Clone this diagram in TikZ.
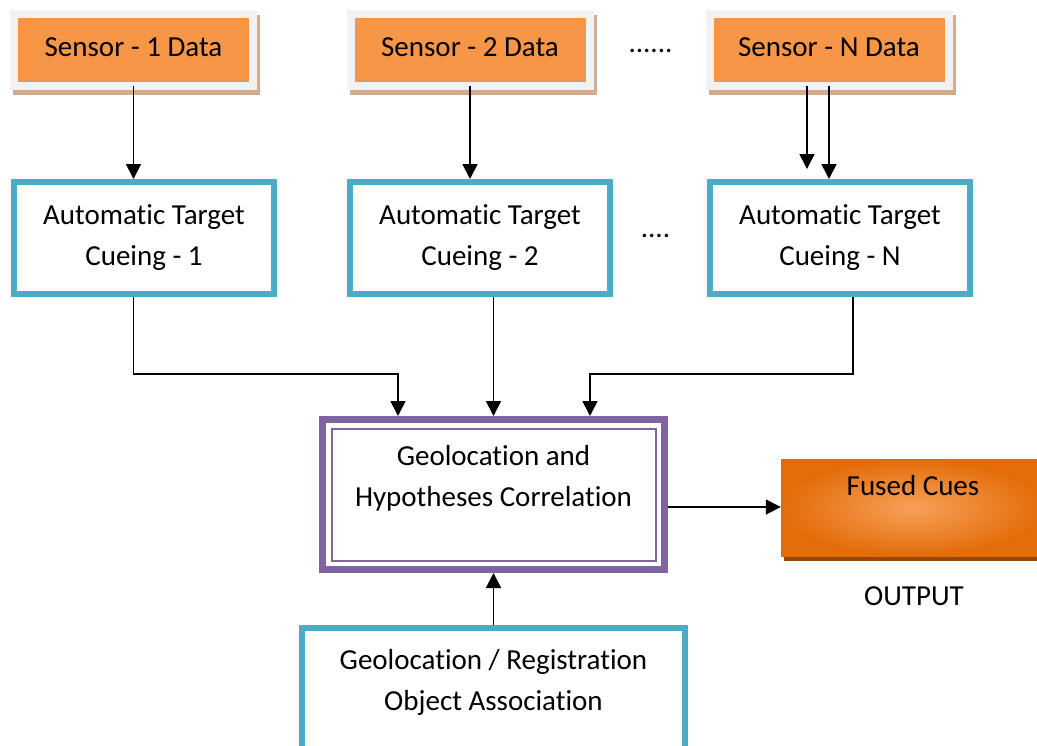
\documentclass[tikz,border=0pt]{standalone}
\usepackage{fontspec}
\setmainfont[RawFeature={-liga;-clig;-calt;-dlig;-rlig}]{Carlito}
\usetikzlibrary{arrows.meta,calc}
\definecolor{sensorOr}{HTML}{F79646}
\definecolor{frameGray}{HTML}{F2F2F2}
\definecolor{shadowBr}{RGB}{210,172,140}
\definecolor{atcBlue}{HTML}{4BACC6}
\definecolor{geoPurple}{HTML}{8064A2}
\definecolor{fuseDark}{HTML}{E36C09}
\definecolor{fuseShadow}{HTML}{984806}
\begin{document}
\begin{tikzpicture}[x=1pt,y=-1pt,
  every node/.style={font=\fontsize{29}{41}\selectfont, inner sep=0pt},
  sensorbox/.style={rectangle, fill=sensorOr, minimum width=231pt, minimum height=64pt,
    text height=19pt, text depth=6pt,
    preaction={fill=shadowBr, draw=shadowBr, line width=16pt, transform canvas={shift={(3pt,-5pt)}}},
    preaction={draw=frameGray, line width=16pt}},
  atcbox/.style={rectangle, draw=atcBlue, line width=6pt, fill=white,
    minimum width=260pt, minimum height=112pt, align=center},
  geobox/.style={rectangle, draw=geoPurple, line width=7pt, fill=white,
    minimum width=342pt, minimum height=150pt},
  fusebox/.style={rectangle, minimum width=264pt, minimum height=97pt,
    shading=radial, inner color=sensorOr!90!white, outer color=fuseDark,
    preaction={fill=fuseShadow, transform canvas={shift={(3pt,-5pt)}}}},
  conn/.style={line width=1.7pt, -{Triangle[length=15pt,width=15pt]}}
]
\useasboundingbox (0,0) rectangle (1037,745);

% sensors
\node[sensorbox] (s1) at (133.5,50) {Sensor - 1 Data};
\node[sensorbox] (s2) at (470,50) {Sensor - 2 Data};
\node[sensorbox] (sN) at (829,50) {Sensor - N Data};
\node[anchor=base] (d1) at (650.5,52) {......};

% ATC boxes
\node[atcbox] (a1) at (144,238) {Automatic Target\\Cueing - 1};
\node[atcbox] (a2) at (480,238) {Automatic Target\\Cueing - 2};
\node[atcbox] (aN) at (840,238) {Automatic Target\\Cueing - N};
\node[anchor=base] (d2) at (655.5,237) {....};

% geolocation & hypotheses
\node[geobox] (g) at (493.5,494.5) {};
\draw[draw=geoPurple, line width=2pt] ([shift={(12.5pt,-12.5pt)}]g.north west) rectangle ([shift={(-12.5pt,12.5pt)}]g.south east);
\node[align=center] (gt) at ([yshift=16pt]g.center) {Geolocation and\\Hypotheses Correlation};

% fused cues
\node[fusebox] (f) at (913,507.5) {};
\node (ft) at ([yshift=22pt]f.center) {Fused Cues};
\node[anchor=base] (out) at (914,605) {OUTPUT};

% registration
\node[atcbox, minimum width=383pt, minimum height=129pt] (r) at (493.5,692.5) {};
\node[align=center] (rt) at ([yshift=10pt]r.center) {Geolocation / Registration\\Object Association};

% connectors
\draw[conn, shorten <=4pt] (s1.south) -- (s1.south |- a1.north);
\draw[conn, shorten <=4pt] (s2.south) -- (s2.south |- a2.north);
\draw[conn, shorten <=4pt] ([xshift=-22pt]sN.south) -- ([xshift=-22pt,yshift=10pt]sN.south |- aN.north);
\draw[conn, shorten <=4pt] (sN.south) -- (sN.south |- aN.north);

\draw[conn] (s1.south |- a1.south) -- ++(0,77) -| ([xshift=-95.5pt]g.north);
\draw[conn] (g.north |- a2.south) -- (g.north);
\draw[conn] ([xshift=13pt]aN.south) -- ++(0,77) -| ([xshift=96.5pt]g.north);

\draw[conn] ([yshift=-12.5pt]g.east) -- ([yshift=-12.5pt]g.east -| f.west);
\draw[conn] (r.north) -- (g.south);
\end{tikzpicture}
\end{document}
